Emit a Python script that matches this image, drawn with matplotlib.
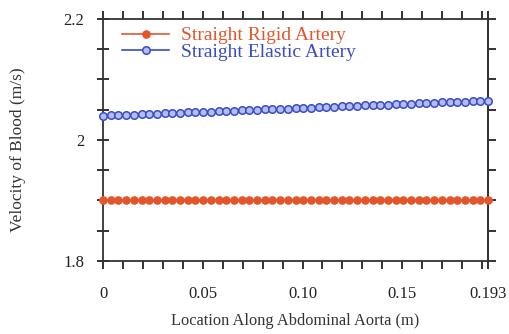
import numpy as np
import matplotlib
matplotlib.use('Agg')
import matplotlib.pyplot as plt
from matplotlib.ticker import FixedLocator, MultipleLocator, NullFormatter

plt.rcParams['font.family'] = ['Liberation Serif', 'DejaVu Serif']

# location along the aorta, 51 stations over 0.193 m
location = np.linspace(0.0, 0.193, 51)

rigid_velocity = [1.900] * 51

elastic_velocity = [
    2.0400, 2.0405, 2.0410, 2.0415, 2.0420, 2.0425, 2.0430, 2.0435, 2.0440, 2.0445,
    2.0450, 2.0455, 2.0460, 2.0465, 2.0470, 2.0475, 2.0480, 2.0485, 2.0490, 2.0495,
    2.0500, 2.0505, 2.0510, 2.0515, 2.0520, 2.0525, 2.0530, 2.0535, 2.0540, 2.0545,
    2.0550, 2.0555, 2.0560, 2.0565, 2.0570, 2.0575, 2.0580, 2.0585, 2.0590, 2.0595,
    2.0600, 2.0605, 2.0610, 2.0615, 2.0620, 2.0625, 2.0630, 2.0635, 2.0640, 2.0645,
    2.0650,
]

x_ticks = [0.0, 0.05, 0.10, 0.15, 0.193]
x_tick_labels = ['0', '0.05', '0.10', '0.15', '0.193']
y_ticks = [1.8, 2.0, 2.2]
y_tick_labels = ['1.8', '2', '2.2']

red = '#e2562c'
blue = '#3a4cc4'

fig = plt.figure(figsize=(5.1, 3.34), dpi=100)
ax = fig.add_axes([0.202, 0.219, 0.755, 0.724])

ax.plot(location, rigid_velocity, '-o', color=red, lw=1.2, ms=5.2,
        mfc=red, mec=red, label='Straight Rigid Artery', clip_on=False, zorder=3)
ax.plot(location, elastic_velocity, '-o', color=blue, lw=1.2, ms=5.4,
        mfc='#b4bcf0', mec=blue, mew=1.1, label='Straight Elastic Artery',
        clip_on=False, zorder=3)

ax.set_xlim(0.0, 0.193)
ax.set_ylim(1.8, 2.2)

ax.xaxis.set_major_locator(FixedLocator(x_ticks))
ax.set_xticklabels(x_tick_labels)
ax.xaxis.set_minor_locator(FixedLocator(list(np.arange(0.0, 0.1905, 0.01))))
ax.yaxis.set_major_locator(FixedLocator(y_ticks))
ax.set_yticklabels(y_tick_labels)
ax.yaxis.set_minor_locator(MultipleLocator(0.05))

ax.tick_params(which='both', direction='out', length=6, width=1.3,
               top=True, right=False, labelsize=12, colors='#222222')
ax.tick_params(axis='x', which='both', pad=12)
ax.tick_params(axis='y', which='both', direction='inout', length=9, pad=9)

# right-hand ticks point outward only
right = ax.secondary_yaxis('right')
right.yaxis.set_major_locator(FixedLocator(y_ticks))
right.yaxis.set_minor_locator(MultipleLocator(0.05))
right.yaxis.set_major_formatter(NullFormatter())
right.tick_params(which='both', direction='out', length=6, width=1.3, colors='#222222')
right.spines['right'].set_linewidth(1.3)
right.spines['right'].set_color('#333333')

for spine in ax.spines.values():
    spine.set_linewidth(1.3)
    spine.set_color('#333333')

ax.set_xlabel('Location Along Abdominal Aorta (m)', fontsize=11.8, color='#333333', labelpad=8)
ax.set_ylabel('Velocity of Blood (m/s)', fontsize=12.5, color='#333333', labelpad=22)
ax.yaxis.set_label_coords(-0.2, 0.46)

leg = ax.legend(loc='upper left', frameon=False, fontsize=14, handlelength=2.4,
                handletextpad=0.6, labelspacing=-0.05, borderaxespad=0.0,
                bbox_to_anchor=(0.03, 1.0))
for text, c in zip(leg.get_texts(), [red, blue]):
    text.set_color(c)

fig.savefig('out.png', dpi=100)
